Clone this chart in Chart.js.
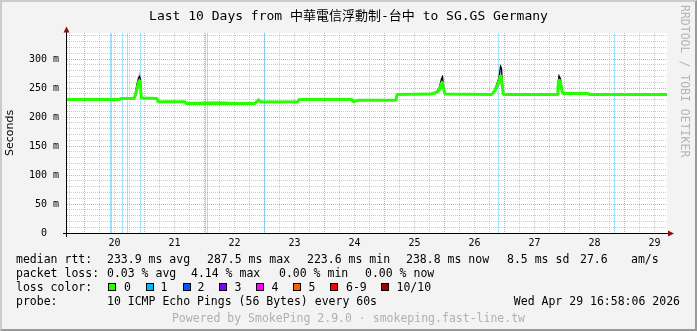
<!DOCTYPE html>
<html><head><meta charset="utf-8">
<script src="https://cdn.jsdelivr.net/npm/chart.js@4.4.1/dist/chart.umd.min.js"></script>
<style>
html,body{margin:0;padding:0;background:#f3f3f3;}
#wrap{position:relative;width:697px;height:331px;overflow:hidden;background:#f3f3f3;}
#c{position:absolute;left:0;top:0;}
#frame{position:absolute;left:0;top:0;width:697px;height:331px;box-sizing:border-box;border-top:2px solid #cbcbcb;border-left:2px solid #cbcbcb;border-right:2px solid #999;border-bottom:2px solid #999;pointer-events:none;}
.t{position:absolute;font-family:"DejaVu Sans Mono",monospace;font-size:11.5px;line-height:14px;color:#000;white-space:pre;}
#title{position:absolute;left:0;width:697px;top:7px;text-align:center;font-family:"DejaVu Sans Mono","Noto Sans CJK TC",monospace;font-size:13px;line-height:18px;color:#000;white-space:pre;}
#wm{position:absolute;left:691px;top:5px;transform-origin:0 0;transform:rotate(90deg);font-family:"DejaVu Sans Mono",monospace;font-size:11.5px;line-height:13px;color:#b4b4b4;white-space:pre;}
.box{position:absolute;width:8px;height:8px;box-sizing:border-box;border:1px solid #000;}
</style></head>
<body>
<div id="wrap">
<canvas id="c" width="697" height="331"></canvas>
<div id="title">Last 10 Days from 中華電信浮動制-台中 to SG.GS Germany</div>
<div id="wm">RRDTOOL / TOBI OETIKER</div>
<div id="legend"></div>
<div id="frame"></div>
</div>
<script>
// ---- data (time in day-of-month, April; RTT in ms) ----
const xMin = 19.707, xMax = 29.707, yMax = 345;
const times = [19.707,20.590,20.607,20.824,20.849,20.874,20.899,20.915,20.932,20.944,
  21.207,21.224,21.674,21.690,22.257,22.507,22.840,22.899,22.940,23.557,
  23.574,24.457,24.474,24.557,25.190,25.207,25.757,25.857,25.907,25.949,
  25.965,25.990,26.007,26.790,26.840,26.874,26.907,26.932,26.949,26.965,
  26.982,27.874,27.890,27.907,27.932,27.957,27.974,28.390,28.407,29.707];
const medianRtt = [230.5,230.5,232,232,238,250,260,264,256,233,
  232,226.4,226.4,223.6,223.6,223.6,223.6,229,226,226.4,
  230.5,230.5,226.5,228.8,228.8,239,239.6,242,246,258,
  261,246,239.6,239,246,254,262,272,268,250,
  239,239,252,265,260,245,240.8,240.8,239,238.8];
const smokeHigh = [233,233,234,234,246,262,274,279,272,235,
  234,228,228,226,228,226,226,234,228,228,
  232.5,232.5,228.5,230.5,230.5,241,241.5,246,252,266,
  270,252,241.5,241,250,260,272,292,290,258,
  241,241,258,274,268,248,242.5,242.5,241,240.5];
const smokeLow = [229.5,229.5,231,231,233,240,248,252,240,232,
  231,225.5,225.5,222.5,222.5,222.5,222.5,225,225,225.5,
  229.5,229.5,225.5,228,228,238,238.5,240,242,248,
  250,241,238.5,238,242,248,252,256,252,244,
  238,238,244,252,248,242,240,240,238,238];
const denseSmoke = [null,null,null,232,243,257,267,270,266,233,
  null,null,null,null,null,null,null,null,null,null,
  null,null,null,null,null,null,null,243,248,266,
  269.5,250,239.6,null,248,258,268,287.5,284,256,
  239,null,255,271,266,246,240.8,null,null,null];
const lossTimes = [20.432,20.449,20.632,20.715,20.932,22.015,22.049,22.999,26.898,28.832];
const yTickValues = [0,10,20,30,40,50,60,70,80,90,100,110,120,130,140,150,160,170,180,190,200,210,220,230,240,250,260,270,280,290,300,310,320,330,340];
const dayBoundaries = [20,21,22,23,24,25,26,27,28,29];
const statRtt = [["median rtt:",16],["233.9 ms avg",107],["287.5 ms max",207],["223.6 ms min",307],["238.8 ms now",406],["8.5 ms sd",507],["27.6",580],["am/s",631]];
const statLoss = [["packet loss:",16],["0.03 % avg",107],["4.14 % max",191],["0.00 % min",279],["0.00 % now",365]];
const lossColorNames = ["0","1","2","3","4","5","6-9","10/10"];
const lossColors = ["#26ff00","#00b8ff","#0059ff","#7e00ff","#ff00ff","#ff5e00","#ff0000","#a10000"];
const lossBoxX = [108,145.5,182.5,219,256,293,330,381];
const lossTextX = [124,160.5,197.5,234.5,271.5,308.5,346,396.5];

// ---- legend text (HTML) ----
const leg = document.getElementById('legend');
function addText(txt, x, top, extra){ const d=document.createElement('div'); d.className='t'; d.textContent=txt; d.style.left=x+'px'; d.style.top=top+'px'; if(extra) Object.assign(d.style, extra); leg.appendChild(d); return d; }
statRtt.forEach(([s,x])=>addText(s,x,252));
statLoss.forEach(([s,x])=>addText(s,x,266));
addText("loss color:",16,280);
lossColorNames.forEach((n,i)=>{ const b=document.createElement('div'); b.className='box'; b.style.left=lossBoxX[i]+'px'; b.style.top='283px'; b.style.background=lossColors[i]; leg.appendChild(b); addText(n,lossTextX[i],280); });
addText("probe:",16,294);
addText("10 ICMP Echo Pings (56 Bytes) every 60s",107,294);
const dt = addText("Wed Apr 29 16:58:06 2026",0,294); dt.style.left='auto'; dt.style.right=(697-680)+'px';
const pw = addText("Powered by SmokePing 2.9.0 · smokeping.fast-line.tw",0,311); pw.style.left='0'; pw.style.width='697px'; pw.style.textAlign='center'; pw.style.color='#b0b0b0';

// ---- chart ----
const pts = arr => times.map((t,i)=>({x:t,y:arr[i]}));
const lossPts = [];
lossTimes.forEach(t=>{ lossPts.push({x:t,y:0},{x:t,y:yMax},{x:t,y:null}); });
const xTickValues = [];
for (let v = 19.75; v <= 29.5001; v += 0.25) xTickValues.push(v);
const isInt = v => Math.abs(v - Math.round(v)) < 1e-6;

const decor = {
  id:'decor',
  beforeDraw(chart){ const {ctx, chartArea:a} = chart; ctx.save(); ctx.fillStyle='#ffffff'; ctx.fillRect(a.left,a.top,a.right-a.left,a.bottom-a.top); ctx.restore(); },
  afterDraw(chart){
    const {ctx, chartArea:a} = chart;
    ctx.save();
    ctx.strokeStyle='#000'; ctx.lineWidth=1;
    ctx.beginPath();
    ctx.moveTo(a.left-4, a.bottom+0.5); ctx.lineTo(a.right+2, a.bottom+0.5);
    ctx.moveTo(a.left-0.5, a.bottom+4); ctx.lineTo(a.left-0.5, a.top-1);
    ctx.stroke();
    ctx.fillStyle='#8b1010';
    ctx.beginPath(); ctx.moveTo(a.right+1, a.bottom-2.5); ctx.lineTo(a.right+7, a.bottom+0.5); ctx.lineTo(a.right+1, a.bottom+3.5); ctx.closePath(); ctx.fill();
    ctx.beginPath(); ctx.moveTo(a.left-3.5, a.top-0.5); ctx.lineTo(a.left-0.5, a.top-6.5); ctx.lineTo(a.left+2.5, a.top-0.5); ctx.closePath(); ctx.fill();
    ctx.restore();
  }
};

new Chart(document.getElementById('c'), {
  type:'line',
  data:{ datasets:[
    {label:'median', data:pts(medianRtt), borderColor:'#26ff00', borderWidth:3, pointRadius:0, borderJoinStyle:'bevel', fill:false},
    {label:'dense', data:pts(denseSmoke), borderColor:'#000000', borderWidth:1.3, pointRadius:0, fill:false, spanGaps:false},
    {label:'smokeHigh', data:pts(smokeHigh), borderWidth:0, borderColor:'rgba(0,0,0,0)', pointRadius:0, fill:'+1', backgroundColor:'rgba(0,0,0,0.22)'},
    {label:'smokeLow', data:pts(smokeLow), borderWidth:0, borderColor:'rgba(0,0,0,0)', pointRadius:0, fill:false},
    {label:'loss', data:lossPts, borderColor:'rgba(0,184,255,0.38)', borderWidth:1, pointRadius:0, fill:false, spanGaps:false}
  ]},
  options:{
    responsive:false, maintainAspectRatio:false, animation:false, devicePixelRatio:1,
    layout:{padding:{top:33,right:30,bottom:0,left:0}},
    plugins:{legend:{display:false}, tooltip:{enabled:false}, title:{display:false}},
    scales:{
      x:{ type:'linear', min:xMin, max:xMax, offset:false,
        afterBuildTicks: s => { s.ticks = xTickValues.map(v=>({value:v})); },
        afterFit: s => { s.height = 98; },
        grid:{ drawTicks:false, offset:false, lineWidth:1,
          color: c => isInt(c.tick.value) ? 'rgba(225,70,70,0.5)' : 'rgba(140,140,140,0.45)' },
        border:{ display:false, dash:[1,1] },
        ticks:{ autoSkip:false, maxRotation:0, minRotation:0, padding:4, color:'#000',
          font:{family:'DejaVu Sans Mono', size:10},
          callback: v => (Math.abs(v - Math.floor(v) - 0.5) < 1e-6 && dayBoundaries.includes(Math.floor(v))) ? String(Math.floor(v)) : '' }
      },
      y:{ type:'linear', min:0, max:yMax,
        afterBuildTicks: s => { s.ticks = yTickValues.map(v=>({value:v})); },
        afterFit: s => { s.width = 67; },
        grid:{ drawTicks:false, lineWidth:1,
          color: c => (c.tick.value % 50 === 0) ? 'rgba(225,70,70,0.5)' : 'rgba(140,140,140,0.45)' },
        border:{ display:false, dash:[1,1] },
        title:{ display:true, text:'Seconds', color:'#000', font:{family:'DejaVu Sans', size:11}, padding:{top:4,bottom:0} },
        ticks:{ autoSkip:false, padding:8, color:'#000', font:{family:'DejaVu Sans Mono', size:10},
          callback: v => v % 50 === 0 ? (v === 0 ? '0  ' : v + ' m') : '' }
      }
    }
  },
  plugins:[decor]
});
</script>
</body></html>
